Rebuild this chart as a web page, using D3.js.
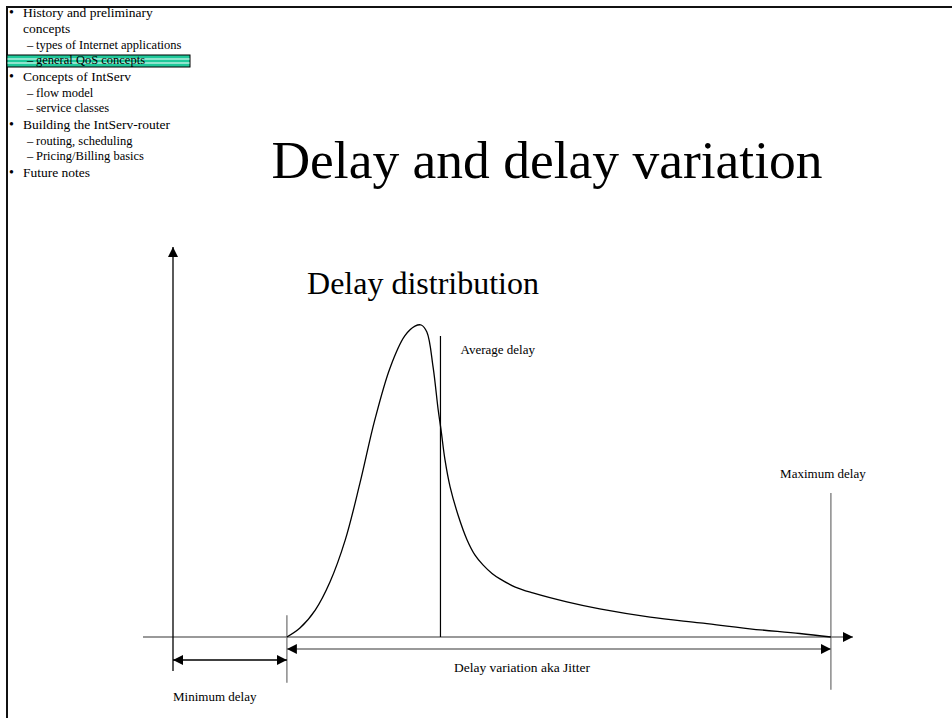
<!DOCTYPE html>
<html>
<head>
<meta charset="utf-8">
<script src="https://cdn.jsdelivr.net/npm/d3@7"></script>
<style>
  body { margin: 0; background: #fff; }
  svg text { font-family: "Liberation Serif", "Times New Roman", serif; fill: #000; }
</style>
</head>
<body>
<svg id="chart" width="952" height="718"></svg>
<script>
// outline in the left corner (level 0 = bullet, 1 = dash, 2 = wrapped line)
var outlineText = ["History and preliminary", "concepts", "types of Internet applications", "general QoS concepts",
  "Concepts of IntServ", "flow model", "service classes", "Building the IntServ-router",
  "routing, scheduling", "Pricing/Billing basics", "Future notes"];
var outlineLevel = [0, 2, 1, 1, 0, 1, 1, 0, 1, 1, 0];
var currentItem = 3;

// delay distribution curve: delay (units) / density
var delay = [20.1, 22.4, 25.1, 27.7, 30.4, 33.0, 35.6, 38.3, 40.9, 42.7, 43.8, 44.8, 45.9, 46.8, 47.3,
  48.0, 48.9, 50.3, 51.9, 53.3, 54.7, 56.3, 57.7, 60.4, 63.5, 69.5, 75.3, 84.2, 93.0, 101.8, 110.6, 116.1];
var density = [0, 0.023, 0.069, 0.141, 0.249, 0.395, 0.556, 0.69, 0.772, 0.797, 0.8, 0.782, 0.692, 0.582, 0.531,
  0.454, 0.385, 0.313, 0.249, 0.210, 0.185, 0.163, 0.149, 0.128, 0.113, 0.090, 0.072, 0.051, 0.036, 0.021, 0.009, 0];

var minDelay = 20.1, avgDelay = 47.2, maxDelay = 116.1;
var avgTop = 0.772, maxTop = 0.369;

var svg = d3.select("#chart");
var W = 952, H = 718;

// frame (top + left only)
svg.append("path")
  .attr("d", "M7," + H + " V7 H" + W)
  .attr("fill", "none").attr("stroke", "#111").attr("stroke-width", 2);

// outline
var gap = function(l){ return l == 0 ? 17 : (l == 1 ? 15.5 : 16) };
var ys = [];
outlineLevel.forEach(function(l, i){
  ys.push(i == 0 ? 17 : ys[i-1] + gap(l));
});

var hb = svg.append("g");
hb.append("rect").attr("x", 7).attr("y", ys[currentItem] - 9).attr("width", 183).attr("height", 12)
  .attr("fill", "#1fc99a").attr("stroke", "#000").attr("stroke-width", 1);
[ys[currentItem] - 5, ys[currentItem] - 1].forEach(function(y){
  hb.append("line").attr("x1", 7.5).attr("x2", 189.5).attr("y1", y).attr("y2", y)
    .attr("stroke", "#fff").attr("stroke-width", 1.2);
});

var og = svg.append("g");
outlineText.forEach(function(t, i){
  var l = outlineLevel[i];
  if (l == 0) {
    og.append("text").attr("x", 9).attr("y", ys[i]).attr("font-size", 14).text("\u2022");
  }
  if (l == 1) {
    og.append("text").attr("x", 27).attr("y", ys[i]).attr("font-size", 12.5).text("\u2013");
  }
  og.append("text")
    .attr("x", l == 1 ? 36 : 23)
    .attr("y", ys[i])
    .attr("font-size", l == 1 ? 12.5 : 13.5)
    .attr("fill", i == currentItem ? "#222" : "#000")
    .text(t);
});

// titles
svg.append("text").attr("x", 547).attr("y", 178).attr("text-anchor", "middle")
  .attr("font-size", 53.5).text("Delay and delay variation");
svg.append("text").attr("x", 423).attr("y", 294).attr("text-anchor", "middle")
  .attr("font-size", 32).text("Delay distribution");

// scales
var x = d3.scaleLinear().domain([0, 120]).range([173, 853]);
var y = d3.scaleLinear().domain([0, 1]).range([637, 247]);

var defs = svg.append("defs");
defs.append("marker").attr("id", "ah")
  .attr("viewBox", "0 0 10 10").attr("refX", 10).attr("refY", 5)
  .attr("markerWidth", 10).attr("markerHeight", 10)
  .attr("markerUnits", "userSpaceOnUse").attr("orient", "auto-start-reverse")
  .append("path").attr("d", "M0,0 L10,5 L0,10 Z").attr("fill", "#000");

var gray = "#777";

// x axis
svg.append("line").attr("x1", x(-5.3)).attr("x2", x(120)).attr("y1", y(0)).attr("y2", y(0))
  .attr("stroke", gray).attr("stroke-width", 1.5).attr("marker-end", "url(#ah)");
// y axis
svg.append("line").attr("x1", x(0)).attr("x2", x(0)).attr("y1", y(-0.087)).attr("y2", y(1))
  .attr("stroke", "#000").attr("stroke-width", 1.3).attr("marker-end", "url(#ah)");

// reference lines
svg.append("line").attr("x1", x(minDelay)).attr("x2", x(minDelay)).attr("y1", y(0.056)).attr("y2", y(-0.117))
  .attr("stroke", gray).attr("stroke-width", 1.3);
svg.append("line").attr("x1", x(avgDelay)).attr("x2", x(avgDelay)).attr("y1", y(avgTop)).attr("y2", y(0))
  .attr("stroke", "#000").attr("stroke-width", 1.2);
svg.append("line").attr("x1", x(maxDelay)).attr("x2", x(maxDelay)).attr("y1", y(maxTop)).attr("y2", y(-0.135))
  .attr("stroke", gray).attr("stroke-width", 1.3);

// curve
var pts = delay.map(function(d, i){ return [d, density[i]] });
svg.append("path").datum(pts)
  .attr("fill", "none").attr("stroke", "#000").attr("stroke-width", 1.3)
  .attr("d", d3.line().x(function(d){ return x(d[0]) }).y(function(d){ return y(d[1]) })
    .curve(d3.curveCatmullRom.alpha(0.5)));

// double arrows
svg.append("line").attr("x1", x(minDelay)).attr("x2", x(maxDelay)).attr("y1", y(0) + 12).attr("y2", y(0) + 12)
  .attr("stroke", gray).attr("stroke-width", 1.5)
  .attr("marker-start", "url(#ah)").attr("marker-end", "url(#ah)");
svg.append("line").attr("x1", x(0)).attr("x2", x(minDelay)).attr("y1", y(0) + 23).attr("y2", y(0) + 23)
  .attr("stroke", "#000").attr("stroke-width", 1.3)
  .attr("marker-start", "url(#ah)").attr("marker-end", "url(#ah)");

// labels
svg.append("text").attr("x", x(avgDelay) + 20).attr("y", 354).attr("font-size", 13).text("Average delay");
svg.append("text").attr("x", x(maxDelay) - 8).attr("y", 478).attr("text-anchor", "middle")
  .attr("font-size", 13).text("Maximum delay");
svg.append("text").attr("x", 522).attr("y", y(0) + 35).attr("text-anchor", "middle")
  .attr("font-size", 13.5).text("Delay variation aka Jitter");
svg.append("text").attr("x", x(0)).attr("y", 701).attr("font-size", 13).text("Minimum delay");
</script>
</body>
</html>
